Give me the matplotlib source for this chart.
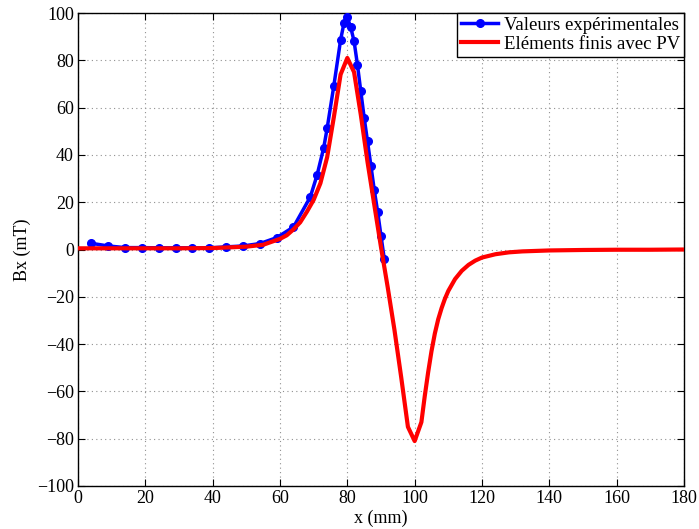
import matplotlib
matplotlib.use("Agg")
import matplotlib.pyplot as plt

# Experimental values
exp_x = [4, 9, 14, 19, 24, 29, 34, 39, 44, 49, 54, 59, 64, 69, 71, 73, 74, 76,
         78, 79, 80, 81, 82, 83, 84, 85, 86, 87, 88, 89, 90, 91]
exp_y = [2.6, 1.5, 0.8, 0.8, 0.7, 0.7, 0.7, 0.7, 1.1, 1.5, 2.5, 5.0, 9.5, 22.2,
         31.4, 43.1, 51.2, 69.3, 88.6, 95.7, 98.2, 94.0, 88.1, 78.2, 66.9, 55.8,
         45.7, 35.5, 25.2, 16.0, 5.8, -4.2]

# Finite elements with PV
fe_x = [0, 10, 20, 30, 40, 50, 55, 60, 62, 64, 66, 68, 70, 72, 74, 76, 78, 80,
        82, 84, 86, 88, 90, 92, 94, 96, 98, 100, 102, 103, 104, 105, 106, 107,
        108, 109, 110, 112, 114, 116, 118, 120, 124, 128, 132, 140, 150, 160,
        170, 180]
fe_y = [0.5, 0.5, 0.5, 0.5, 0.6, 1.2, 2.0, 4.5, 6.0, 8.5, 11.5, 16.0, 21.0,
        28.0, 39.0, 56.0, 74.0, 81.0, 75.0, 57.0, 37.0, 19.0, 1.0, -16.0, -34.0,
        -54.0, -75.0, -81.0, -73.0, -62.0, -52.0, -43.0, -35.5, -29.5, -24.8,
        -20.8, -17.5, -12.5, -9.0, -6.5, -4.7, -3.4, -2.0, -1.2, -0.8, -0.4,
        -0.2, -0.1, -0.1, 0.0]

plt.rcParams['font.family'] = ['Liberation Serif', 'DejaVu Serif']
plt.rcParams['font.size'] = 13

fig = plt.figure(figsize=(6.99, 5.29), dpi=100)
ax = fig.add_axes([0.1116, 0.0813, 0.8669, 0.8941])

ax.plot(exp_x, exp_y, '-o', color='#0000ff', lw=2.5, ms=5.5,
        label='Valeurs expérimentales', zorder=3)
ax.plot(fe_x, fe_y, '-', color='#ff0000', lw=3, label='Eléments finis avec PV',
        zorder=4)

ax.set_xlim(0, 180)
ax.set_ylim(-100, 100)
ax.set_xticks(range(0, 181, 20))
ax.set_yticks(range(-100, 101, 20))
ax.grid(True, linestyle=(0, (1, 3)), color='#909090', lw=0.8)
ax.tick_params(direction='in', top=True, right=True, length=5, width=0.8,
               labelsize=13, pad=3)
for s in ax.spines.values():
    s.set_linewidth(1.0)
ax.set_xlabel('x (mm)', labelpad=2)
ax.set_ylabel('Bx (mT)', labelpad=4)

leg = ax.legend(loc='upper right', borderaxespad=0, fancybox=False,
                edgecolor='black', framealpha=1, handlelength=2.0,
                handletextpad=0.3, borderpad=0.2, labelspacing=0.1,
                fontsize=13.5)
leg.get_frame().set_linewidth(1.0)

fig.savefig('out.png', dpi=100)
